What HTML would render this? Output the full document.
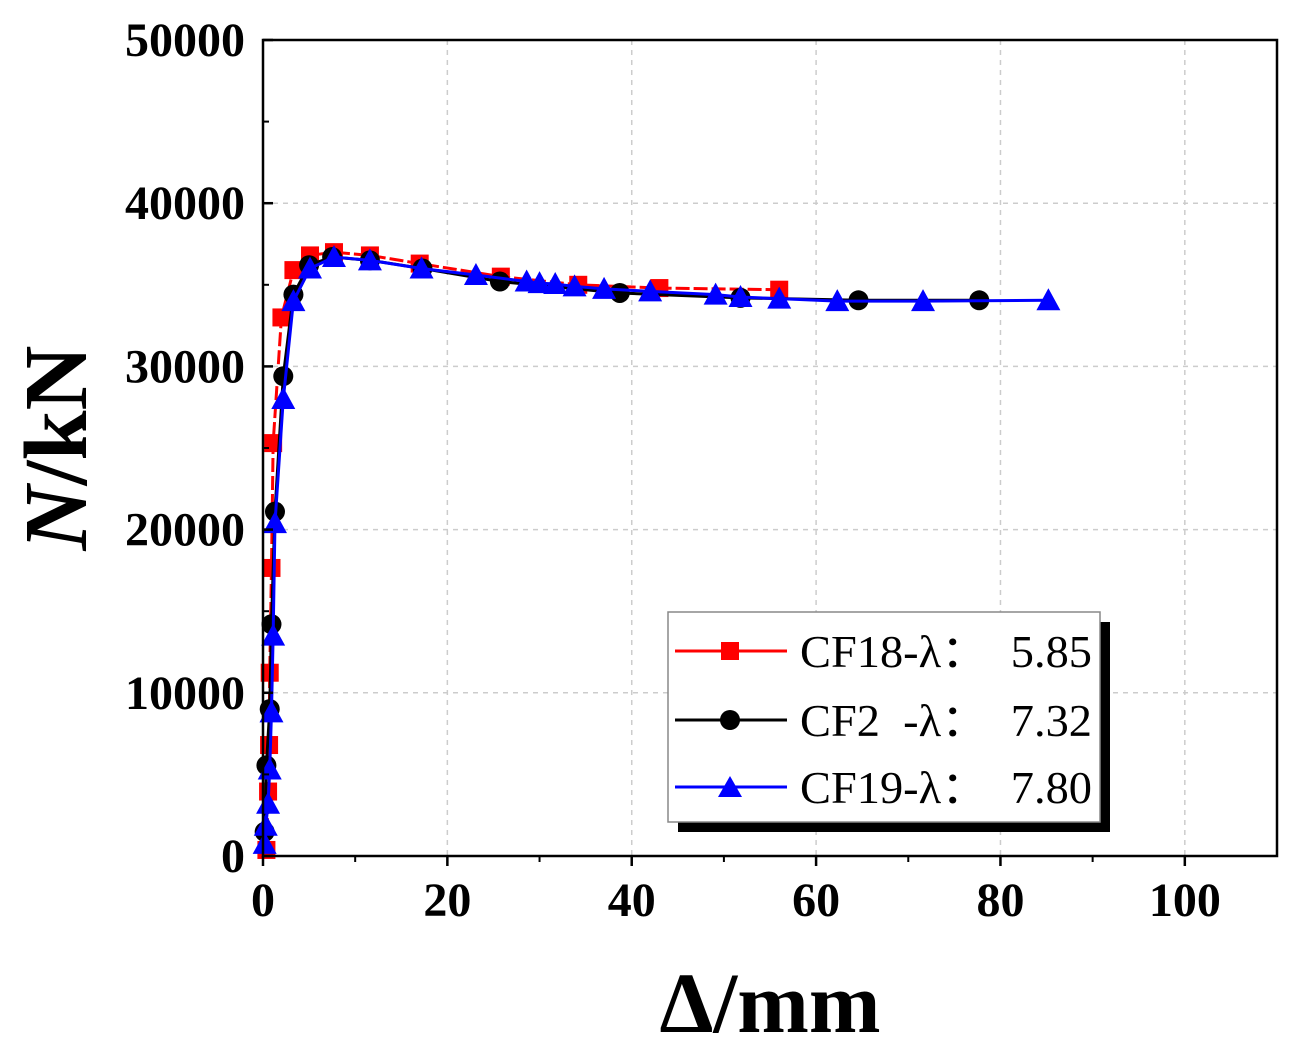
<!DOCTYPE html>
<html><head><meta charset="utf-8"><style>
html,body{margin:0;padding:0;background:#fff;}
svg{display:block;font-family:"Liberation Serif",serif;}
</style></head><body>
<svg id="chart" width="1299" height="1060">
<g id="grid"></g>
<g id="series"></g>
<g id="axes"></g>
<text x="770" y="1032" text-anchor="middle" font-size="86" font-weight="bold">Δ/mm</text>
<text transform="translate(86,448) rotate(-90)" text-anchor="middle" font-size="90" font-weight="bold"><tspan font-style="italic">N</tspan>/kN</text>
<g>
<rect x="678" y="622" width="432" height="210" fill="#000"/>
<rect x="668" y="612" width="432" height="210" fill="#fff" stroke="#888" stroke-width="1.5"/>
<g>
<line x1="675" y1="651" x2="787" y2="651" stroke="#f00" stroke-width="3"/>
<rect x="721" y="642" width="18" height="18" fill="#f00"/>
<text x="800" y="667" font-size="45" textLength="292" lengthAdjust="spacingAndGlyphs" xml:space="preserve">CF18-λ：  5.85</text></g>
<g>
<line x1="675" y1="720" x2="787" y2="720" stroke="#000" stroke-width="3"/>
<circle cx="730" cy="720" r="10" fill="#000"/>
<text x="800" y="736" font-size="45" textLength="292" lengthAdjust="spacingAndGlyphs" xml:space="preserve">CF2  -λ：  7.32</text></g>
<g>
<line x1="675" y1="787" x2="787" y2="787" stroke="#00f" stroke-width="3"/>
<polygon points="730,776 742,797 718,797" fill="#00f"/>
<text x="800" y="803" font-size="45" textLength="292" lengthAdjust="spacingAndGlyphs" xml:space="preserve">CF19-λ：  7.80</text></g>
</g>
</svg>
<script>
const xTicks=[0,20,40,60,80,100];
const yTicks=[0,10000,20000,30000,40000,50000];
const cf18X=[0.37,0.55,0.66,0.73,0.92,1.1,2.0,3.3,5.1,7.7,11.6,17.0,25.8,34.2,43,56];
const cf18Y=[370,3950,6800,11230,17650,25300,33000,35900,36800,37000,36800,36300,35500,35000,34800,34700];
const cf2X=[0.18,0.37,0.73,0.92,1.3,2.2,3.3,5.0,7.5,11.6,17.3,25.7,38.7,51.8,64.6,77.7];
const cf2Y=[1480,5550,9000,14200,21100,29400,34400,36200,36700,36500,36000,35200,34500,34200,34050,34050];
const cf19X=[0.18,0.3,0.55,0.73,0.92,1.1,1.3,2.2,3.3,5.1,7.7,11.6,17.2,23.1,28.6,30,31.7,33.8,37,42,49.1,51.8,56,62.3,71.6,85.2];
const cf19Y=[740,1850,3200,5300,8800,13500,20400,28000,34000,36000,36700,36500,36000,35600,35200,35100,35050,34900,34750,34600,34400,34250,34150,34000,34000,34050];
const L=263,R=1277,T=40,B=856;
function sx(v){return L+(v/110)*(R-L);}
function sy(v){return B-(v/50000)*(B-T);}
const NS='http://www.w3.org/2000/svg';
function mk(tag,attrs,parent){const e=document.createElementNS(NS,tag);for(const k in attrs)e.setAttribute(k,attrs[k]);parent.appendChild(e);return e;}
const grid=document.getElementById('grid'),axes=document.getElementById('axes'),ser=document.getElementById('series');
xTicks.forEach(t=>{if(t>0){const g=mk('line',{x1:sx(t),x2:sx(t),y1:T,y2:B,stroke:'#ccc','stroke-width':1.5,'stroke-dasharray':'5,5'},grid);

}
const tl=mk('text',{x:sx(t),y:B+60,'text-anchor':'middle','font-size':48,'font-weight':'bold'},axes);tl.textContent=t;


mk('line',{x1:sx(t),x2:sx(t),y1:B,y2:B+10,stroke:'#000','stroke-width':2.5},axes);
if(t<100)mk('line',{x1:sx(t+10),x2:sx(t+10),y1:B,y2:B+6,stroke:'#000','stroke-width':2},axes);});
yTicks.forEach(t=>{if(t>0&&t<50000){const g=mk('line',{x1:L,x2:R,y1:sy(t),y2:sy(t),stroke:'#ccc','stroke-width':1.5,'stroke-dasharray':'5,5'},grid);

}
const tl=mk('text',{x:L-18,y:sy(t)+16,'text-anchor':'end','font-size':48,'font-weight':'bold'},axes);tl.textContent=t;


mk('line',{x1:L,x2:L+10,y1:sy(t),y2:sy(t),stroke:'#000','stroke-width':2.5},axes);
if(t<50000)mk('line',{x1:L,x2:L+6,y1:sy(t+5000),y2:sy(t+5000),stroke:'#000','stroke-width':2},axes);});
const fr=mk('rect',{x:L,y:T,width:R-L,height:B-T,fill:'none',stroke:'#000','stroke-width':2.5},axes);


function draw(xs,ys,color,dash,shape,name){
const pts=xs.map((x,i)=>sx(x)+','+sy(ys[i])).join(' ');
const pl=mk('polyline',{points:pts,fill:'none',stroke:color,'stroke-width':3,'stroke-dasharray':dash},ser);


xs.forEach((x,i)=>{const cx=sx(x),cy=sy(ys[i]);let m;
if(shape==='sq')m=mk('rect',{x:cx-9,y:cy-9,width:18,height:18,fill:color},ser);
else if(shape==='c')m=mk('circle',{cx:cx,cy:cy,r:10,fill:color},ser);
else m=mk('polygon',{points:`${cx},${cy-12} ${cx+12},${cy+10} ${cx-12},${cy+10}`,fill:color},ser);

});}
draw(cf18X,cf18Y,'#f00','14,4','sq','cf18');
draw(cf2X,cf2Y,'#000','','c','cf2');
draw(cf19X,cf19Y,'#00f','','t','cf19');
</script>
</body></html>
